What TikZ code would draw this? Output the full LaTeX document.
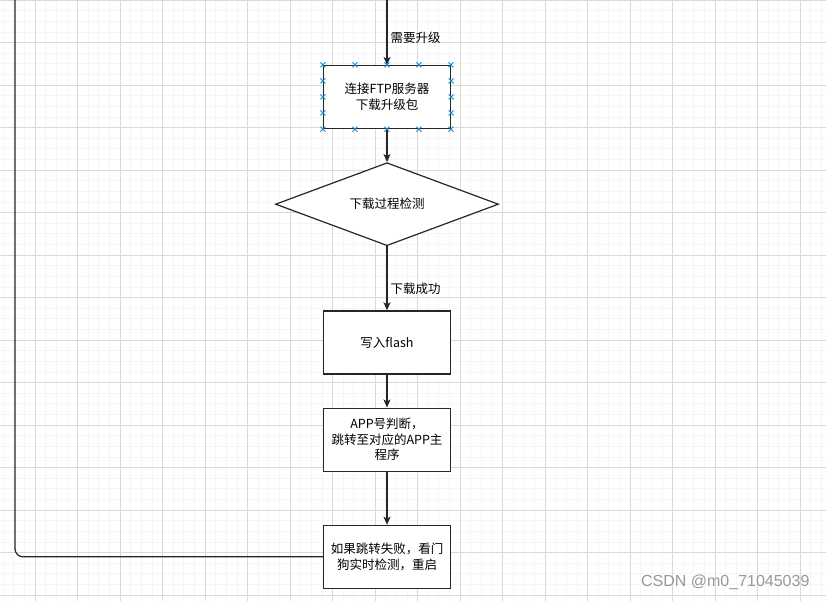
\documentclass[tikz,border=0pt]{standalone}
\usepackage{fontspec}
\setmainfont{Noto Sans CJK SC}
\newfontfamily\markfont{Liberation Sans}
\usetikzlibrary{shapes.geometric,positioning,arrows.meta}

\begin{document}
\begin{tikzpicture}[x=1pt,y=-1pt,>={Stealth[length=8pt,width=7pt,inset=2pt]},node distance=33pt,
  every node/.style={font=\fontsize{12.5}{15.5}\selectfont},
  gridminor/.style={draw=black!4,line width=0.6pt},
  gridmajor/.style={draw=black!15,line width=0.8pt},
  box/.style={draw=black!85,line width=1.2pt,fill=white,minimum width=127pt,
    minimum height=63pt,inner sep=2pt,align=center},
  test/.style={diamond,draw=black!85,line width=1.2pt,fill=white,aspect=2.67,
    minimum width=223pt,minimum height=83pt,inner sep=0pt},
  flow/.style={->,line width=1.2pt,draw=black!85},
  tag/.style={right,inner sep=3pt},
  sel/.style={draw=cyan!70!blue,line width=0.8pt}]

  \useasboundingbox (0,0) rectangle (826,601);
  \fill[white] (0,0) rectangle (826,601);

  % Raster
  \foreach \i in {0,...,78}
    \draw[gridminor] ({3.125+\i*10.625},0) -- ++(0,601);
  \foreach \j in {0,...,57}
    \draw[gridminor] (0,{\j*10.625}) -- ++(826,0);
  \foreach \i in {0,...,19}
    \draw[gridmajor] ({35+\i*42.5},0) -- ++(0,601);
  \foreach \j in {0,...,14}
    \draw[gridmajor] (0,{\j*42.5}) -- ++(826,0);

  % Schritte
  \coordinate (entry) at (387,0);
  \coordinate (back) at (15,0);
  \node[box] (ftp) at (387,97) {连接FTP服务器\\下载升级包};
  \node[test,below=of ftp] (check) {下载过程检测};
  \node[box,below=64pt of check] (flash) {写入flash};
  \node[box,below=of flash] (app) {APP号判断，\\跳转至对应的APP主\\程序};
  \node[box,below=53pt of app] (fail) {如果跳转失败，看门\\狗实时检测，重启};

  % Verbindungen
  \draw[flow] (entry) -- node[tag,pos=0.58] {需要升级} (ftp);
  \draw[flow] (ftp) -- (check);
  \draw[flow] (check) -- node[tag,pos=0.66] {下载成功} (flash);
  \draw[flow] (flash) -- (app);
  \draw[flow] (app) -- (fail);
  \draw[line width=1.2pt,draw=black!85,rounded corners=8pt] (fail.west) -| (back);

  % Auswahlmarken
  \foreach \d in {0,32,64,96,128} {
    \draw[sel] ([xshift=\d pt]ftp.north west) +(-2.5,-2.5) -- +(2.5,2.5) +(-2.5,2.5) -- +(2.5,-2.5);
    \draw[sel] ([xshift=\d pt]ftp.south west) +(-2.5,-2.5) -- +(2.5,2.5) +(-2.5,2.5) -- +(2.5,-2.5);
  }
  \foreach \d in {16,32,48} {
    \draw[sel] ([yshift=-\d pt]ftp.north west) +(-2.5,-2.5) -- +(2.5,2.5) +(-2.5,2.5) -- +(2.5,-2.5);
    \draw[sel] ([yshift=-\d pt]ftp.north east) +(-2.5,-2.5) -- +(2.5,2.5) +(-2.5,2.5) -- +(2.5,-2.5);
  }

  \node[anchor=east,text=black!40,font=\markfont\fontsize{16}{18}\selectfont] (mark) at (813,582) {CSDN @m0\_71045039};

\end{tikzpicture}
\end{document}
